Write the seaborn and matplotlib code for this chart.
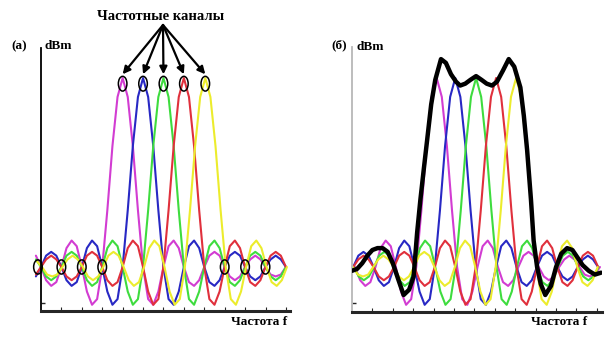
import numpy as np
import pandas as pd
import matplotlib
matplotlib.use("Agg")
import matplotlib.pyplot as plt
from matplotlib.patches import Ellipse
import seaborn as sns

sns.set_style("white")
plt.rcParams['font.family'] = ['Liberation Serif', 'DejaVu Serif']

# ---------------- data ----------------
channels = ["magenta", "blue", "green", "red", "yellow"]
channel_centers_a = [4.0, 5.0, 6.0, 7.0, 8.05]      # channel-spacing units
channel_centers_b = [4.15, 5.06, 6.08, 7.06, 8.04]
channel_colors = ["#d23cd2", "#2828c4", "#3edc3e", "#e0303c", "#ecec2c"]

# one-sided channel shape, sampled every 0.25 units from the centre outwards
profile_half = [1.00, 0.90, 0.64, 0.30, 0.00, -0.17, -0.20, -0.13, 0.00,
                0.11, 0.14, 0.10, 0.00, -0.08, -0.10, -0.07, 0.00,
                0.06, 0.08, 0.06, 0.00, -0.05, -0.07, -0.05, 0.00,
                0.04, 0.06, 0.04, 0.00, -0.04, -0.05, -0.04, 0.00,
                0.03, 0.05]
profile_step = 0.25

# envelope (panel b)
black_x = [0.0, 0.25, 0.5, 0.75, 1.0, 1.25, 1.5, 1.75, 2.0, 2.25, 2.53, 2.8,
           3.02, 3.19, 3.35, 3.52, 3.68, 3.88, 4.08, 4.36, 4.6, 4.85, 5.1,
           5.3, 5.55, 5.8, 6.08, 6.35, 6.6, 6.86, 7.1, 7.4, 7.68, 7.95,
           8.25, 8.42, 8.58, 8.77, 8.9, 9.07, 9.25, 9.47, 9.75, 10.0,
           10.25, 10.54, 10.8, 11.05, 11.3, 11.6, 11.9, 12.2]
black_y = [-0.02, -0.01, 0.02, 0.06, 0.09, 0.10, 0.10, 0.08, 0.02, -0.06,
           -0.148, -0.12, -0.05, 0.18, 0.355, 0.52, 0.67, 0.86, 0.99, 1.10,
           1.08, 1.02, 0.98, 0.96, 0.97, 0.99, 1.01, 0.99, 0.97, 0.96,
           0.98, 1.04, 1.10, 1.06, 0.95, 0.80, 0.62, 0.355, 0.14, 0.0,
           -0.09, -0.148, -0.10, 0.0, 0.07, 0.10, 0.09, 0.05, 0.01,
           -0.02, -0.04, -0.03]

peak_marks_y = 0.97
cross_marks_x = [-0.15, 1, 2, 3, 9, 10, 11]

title_text = "Частотные каналы"
panel_labels = ["(а)", "(б)"]
y_label = "dBm"
x_label = "Частота f"

# ---------------- build long tables ----------------
offsets = np.concatenate([-np.arange(len(profile_half))[:0:-1],
                          np.arange(len(profile_half))]) * profile_step
shape = np.concatenate([profile_half[:0:-1], profile_half])


def channel_table(centers, xmin, xmax):
    rows = []
    for name, c in zip(channels, centers):
        xs = c + offsets
        keep = (xs >= xmin - 1e-9) & (xs <= xmax + 1e-9)
        for xv, yv in zip(xs[keep], shape[keep]):
            rows.append((name, xv, yv))
    return pd.DataFrame(rows, columns=["channel", "f", "level"])


W, H = 614, 340
fig = plt.figure(figsize=(W / 100, H / 100), dpi=100)


def add_ax(x0, x1, ytop, ybot):
    return fig.add_axes([x0 / W, (H - ybot) / H, (x1 - x0) / W, (ybot - ytop) / H])


palette = dict(zip(channels, channel_colors))

# panel (a)
axa = add_ax(41, 290, 48, 311)
dfa = channel_table(channel_centers_a, -0.25, 12.2)
sns.lineplot(data=dfa, x="f", y="level", hue="channel", palette=palette,
             hue_order=channels, sort=False, estimator=None, lw=1.5,
             legend=False, ax=axa, clip_on=False)
axa.set_xlim(0, 12.2)
axa.set_ylim(-0.233, 1.159)

for c in channel_centers_a:
    axa.add_patch(Ellipse((c, peak_marks_y), 0.42, 0.078, fill=False,
                          ec="black", lw=1.1, zorder=5))
for c in cross_marks_x:
    axa.add_patch(Ellipse((c, 0.0), 0.42, 0.075, fill=False,
                          ec="black", lw=1.1, zorder=5, clip_on=False))

# panel (b)
axb = add_ax(352, 602, 47, 312)
dfb = channel_table(channel_centers_b, 0.0, 12.2)
sns.lineplot(data=dfb, x="f", y="level", hue="channel", palette=palette,
             hue_order=channels, sort=False, estimator=None, lw=1.5,
             legend=False, ax=axb)
sns.lineplot(x=black_x, y=black_y, color="black", lw=3.2, sort=False,
             estimator=None, ax=axb, zorder=6)
axb.set_xlim(0, 12.25)
axb.set_ylim(-0.238, 1.164)

for ax, lcol in ((axa, "black"), (axb, "#b8b8b8")):
    sns.despine(ax=ax)
    ax.spines["left"].set_color(lcol)
    ax.spines["left"].set_linewidth(1.3)
    ax.spines["bottom"].set_linewidth(2.2)
    ax.set_xticks(np.arange(1, 13))
    ax.set_yticks([-0.19])
    ax.tick_params(axis="x", direction="in", length=3, width=0.8,
                   labelbottom=False, bottom=True)
    ax.tick_params(axis="y", direction="in", length=3, width=1.0,
                   labelleft=False, left=True)
    ax.set_xlabel("")
    ax.set_ylabel("")

# texts (figure pixel coordinates from top-left)
def ftext(x, y, s, size, ha="center"):
    fig.text(x / W, (H - y) / H, s, fontsize=size, fontweight="bold",
             ha=ha, va="center", color="black")

ftext(161, 16, title_text, 10.5)
ftext(19, 46, panel_labels[0], 9.5)
ftext(58, 46, y_label, 9.5)
ftext(339, 45, panel_labels[1], 9.5)
ftext(370, 47, y_label, 9.5)
ftext(259, 322, x_label, 9.5)
ftext(559, 322, x_label, 9.5)

# arrows from title to the channel peaks
for c in channel_centers_a:
    axa.annotate("", xy=(c, 1.02), xycoords="data",
                 xytext=(163 / W, (H - 25) / H), textcoords="figure fraction",
                 arrowprops=dict(arrowstyle="-|>", color="black", lw=1.6,
                                 mutation_scale=11, shrinkA=0, shrinkB=0))

fig.savefig("out.png", dpi=100)
